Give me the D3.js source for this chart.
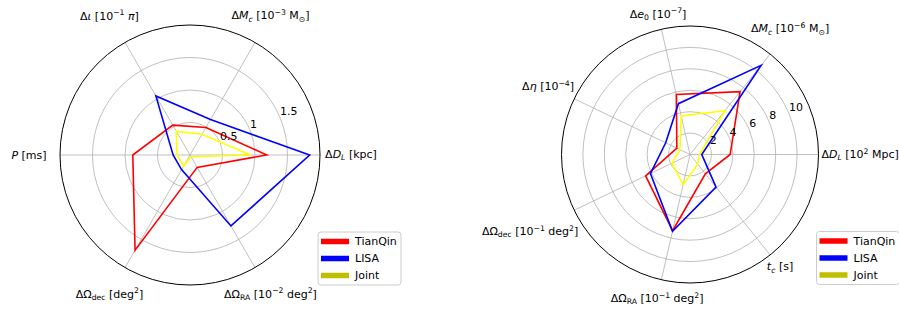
<!DOCTYPE html>
<html>
<head>
<meta charset="utf-8">
<script src="https://cdn.jsdelivr.net/npm/d3@7"></script>
<style>
  body { margin: 0; background: #fff; }
  svg { display: block; font-family: "DejaVu Sans", sans-serif; }
</style>
</head>
<body>
<svg id="fig" width="899" height="314"></svg>
<script>
// series
const seriesNames = ["TianQin", "LISA", "Joint"];
const lineColors = ["#ff0000", "#0000ff", "#ffff00"];
const legendColors = ["#ff0000", "#0000ff", "#bfbf00"];

// left panel: *x* = italic, _{..} = subscript, ^{..} = superscript
const leftAxes = [
	"Δ*D*_{*L*} [kpc]",
	"Δ*M*_{*c*} [10^{−3} M_{⊙}]",
	"Δ*ι* [10^{−1} *π*]",
	"*P* [ms]",
	"ΔΩ_{dec} [deg^{2}]",
	"ΔΩ_{RA} [10^{−2} deg^{2}]"
];
const leftTicks = [0.5, 1, 1.5];
const leftTickLabels = ["0.5", "1", "1.5"];
const leftTianQin = [1.18, 0.49, 0.53, 0.88, 1.69, 0.22];
const leftLISA = [1.84, 0.63, 1.05, 0.26, 0.26, 1.26];
const leftJoint = [0.93, 0.37, 0.42, 0.2, 0.2, 0.03];

// right panel
const rightAxes = [
	"Δ*D*_{*L*} [10^{2} Mpc]",
	"Δ*M*_{*c*} [10^{−6} M_{⊙}]",
	"Δ*e*_{0} [10^{−7}]",
	"Δ*η* [10^{−4}]",
	"ΔΩ_{dec} [10^{−1} deg^{2}]",
	"ΔΩ_{RA} [10^{−1} deg^{2}]",
	"*t*_{*c*} [s]"
];
const rightTicks = [2, 4, 6, 8, 10];
const rightTickLabels = ["2", "4", "6", "8", "10"];
const rightTianQin = [3.75, 7.5, 5.75, 1.36, 4.6, 7.3, 2.3];
const rightLISA = [1.1, 10.65, 4.87, 2.52, 4.1, 7.35, 3.9];
const rightJoint = [0.9, 5.22, 3.7, 1.05, 1.87, 2.9, 1.15];

const svg = d3.select("#fig");
const fontSize = 11;

function pieces(str) {
	const out = [];
	const re = /_\{([^}]*)\}|\^\{([^}]*)\}|\*([^*]+)\*|([^_^*]+)/g;
	let m;
	while ((m = re.exec(str))) {
		if (m[1] !== undefined) out.push(...inner(m[1], "sub"));
		else if (m[2] !== undefined) out.push(...inner(m[2], "sup"));
		else if (m[3] !== undefined) out.push({ t: m[3], it: true, pos: "base" });
		else out.push({ t: m[4], it: false, pos: "base" });
	}
	return out;
}

function inner(s, pos) {
	return s.split(/(\*[^*]+\*)/).filter(d => d).map(d =>
		d[0] === "*" ? { t: d.slice(1, -1), it: true, pos: pos } : { t: d, it: false, pos: pos });
}

function writeMath(text, str) {
	let cur = 0;
	pieces(str).forEach(p => {
		const target = p.pos === "sub" ? 0.25 * fontSize : p.pos === "sup" ? -0.38 * fontSize : 0;
		text.append("tspan")
			.attr("dy", target - cur)
			.style("font-style", p.it ? "italic" : "normal")
			.style("font-size", (p.pos === "base" ? fontSize : fontSize * 0.7) + "px")
			.text(p.t);
		cur = target;
	});
}

function drawRadar(cfg) {
	const g = svg.append("g").attr("transform", `translate(${cfg.cx},${cfg.cy})`);
	const n = cfg.axes.length;
	const r = d3.scaleLinear().domain([0, cfg.rMax]).range([0, cfg.R]);
	const theta = i => (2 * Math.PI * i) / n; // ccw from east

	// rings
	g.selectAll("circle.ring")
		.data(cfg.ticks)
		.join("circle")
		.attr("r", d => r(d))
		.attr("fill", "none")
		.attr("stroke", "#b0b0b0")
		.attr("stroke-width", 0.8);

	// spokes
	g.selectAll("line.spoke")
		.data(cfg.axes)
		.join("line")
		.attr("x1", 0).attr("y1", 0)
		.attr("x2", (d, i) => r(cfg.rMax) * Math.cos(theta(i)))
		.attr("y2", (d, i) => -r(cfg.rMax) * Math.sin(theta(i)))
		.attr("stroke", "#b0b0b0")
		.attr("stroke-width", 0.8);

	// series
	const line = d3.lineRadial()
		.angle((d, i) => Math.PI / 2 - theta(i))
		.radius(d => r(d))
		.curve(d3.curveLinearClosed);

	cfg.series.forEach((vals, k) => {
		g.append("path")
			.attr("d", line(vals))
			.attr("fill", "none")
			.attr("stroke", lineColors[k])
			.attr("stroke-width", 1.6)
			.attr("stroke-linejoin", "miter");
	});

	// outer frame
	g.append("circle")
		.attr("r", r(cfg.rMax))
		.attr("fill", "none")
		.attr("stroke", "#000")
		.attr("stroke-width", 1);

	// radial tick labels at 22.5 deg
	const ra = (22.5 * Math.PI) / 180;
	g.selectAll("text.rtick")
		.data(cfg.ticks)
		.join("text")
		.attr("x", d => r(d) * Math.cos(ra))
		.attr("y", d => -r(d) * Math.sin(ra) - 2.5)
		.style("font-size", fontSize + "px")
		.attr("fill", "#000")
		.text((d, i) => cfg.tickLabels[i]);

	// axis labels
	cfg.axes.forEach((lab, i) => {
		const th = theta(i);
		const t = g.append("text").style("white-space", "pre").attr("fill", "#000");
		writeMath(t, lab);
		const b = t.node().getBBox();
		const e = cfg.labelK * ((b.width / 2) * Math.abs(Math.cos(th)) + 6 * Math.abs(Math.sin(th)));
		const rr = cfg.R + cfg.labelPad + e;
		const px = rr * Math.cos(th);
		const py = -rr * Math.sin(th);
		t.attr("transform", `translate(${px - (b.x + b.width / 2)},${py - (b.y + b.height / 2)})`);
	});

	// legend
	const lg = g.append("g").attr("transform", `translate(${cfg.R - 2},77)`);
	lg.append("rect")
		.attr("width", 83)
		.attr("height", 53)
		.attr("rx", 3)
		.attr("fill", "#fff")
		.attr("fill-opacity", 0.8)
		.attr("stroke", "#cccccc")
		.attr("stroke-width", 1);
	seriesNames.forEach((name, k) => {
		const y = 9.5 + k * 17;
		lg.append("line")
			.attr("x1", 3).attr("x2", 31)
			.attr("y1", y).attr("y2", y)
			.attr("stroke", legendColors[k])
			.attr("stroke-width", 5.5);
		lg.append("text")
			.attr("x", 37)
			.attr("y", y)
			.attr("dominant-baseline", "central")
			.style("font-size", fontSize + "px")
			.text(name);
	});
}

drawRadar({
	cx: 190, cy: 155, R: 130, rMax: 2,
	axes: leftAxes, ticks: leftTicks, tickLabels: leftTickLabels,
	series: [leftTianQin, leftLISA, leftJoint],
	labelPad: 31, labelK: 0
});

drawRadar({
	cx: 690, cy: 154.5, R: 128.5, rMax: 12,
	axes: rightAxes, ticks: rightTicks, tickLabels: rightTickLabels,
	series: [rightTianQin, rightLISA, rightJoint],
	labelPad: 3, labelK: 1
});
</script>
</body>
</html>
